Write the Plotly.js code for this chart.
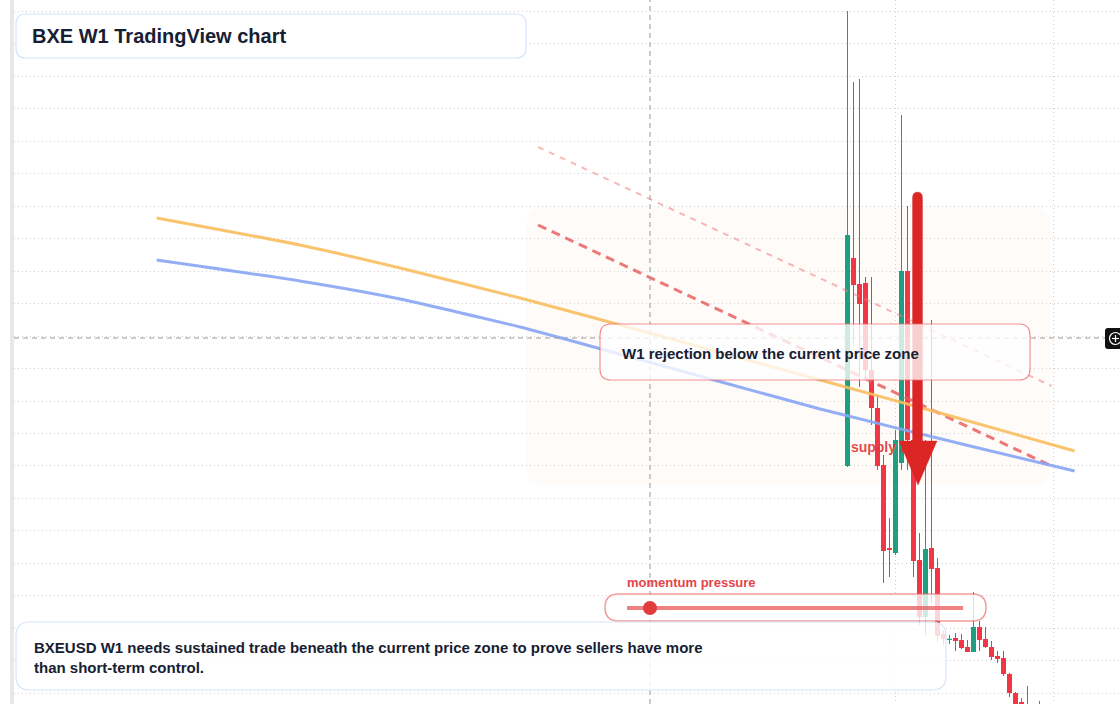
<!DOCTYPE html>
<html><head><meta charset="utf-8">
<script src="https://cdn.plot.ly/plotly-3.0.1.min.js"></script>
<style>html,body{margin:0;padding:0;background:#fff;overflow:hidden}#chart{width:1120px;height:704px}</style>
</head><body><div id="chart"></div>
<script>
// ---- data (BXEUSD weekly) ----
const firstWeek = '2024-05-06';
const opens  = [0.534,0.742,0.716,0.717,0.630,0.592,0.535,0.452,0.447,0.537,0.729,0.560,0.440,0.383,0.452,0.432,0.366,0.360,0.362,0.360,0.353,0.348,0.373,0.361,0.353,0.344,0.342,0.326,0.307,0.298,0.288,0.275,0.255];
const highs  = [0.989,0.918,0.921,0.723,0.723,0.605,0.545,0.482,0.570,0.885,0.794,0.570,0.467,0.560,0.680,0.442,0.370,0.365,0.367,0.366,0.360,0.408,0.379,0.373,0.359,0.349,0.349,0.327,0.308,0.302,0.314,0.282,0.299];
const lows   = [0.533,0.655,0.613,0.620,0.575,0.530,0.417,0.423,0.445,0.530,0.530,0.423,0.375,0.364,0.397,0.358,0.355,0.356,0.349,0.351,0.348,0.348,0.349,0.352,0.340,0.337,0.324,0.303,0.290,0.280,0.270,0.260,0.250];
const closes = [0.765,0.715,0.696,0.630,0.592,0.534,0.449,0.450,0.560,0.729,0.560,0.439,0.383,0.451,0.431,0.364,0.361,0.361,0.359,0.352,0.348,0.373,0.360,0.353,0.343,0.341,0.326,0.307,0.294,0.285,0.275,0.265,0.280];

const orangeDates = ['2022-02-20','2022-08-06','2022-12-01','2023-04-20','2023-09-18','2024-04-04','2024-08-22','2025-01-26'];
const orangeVals  = [0.782,0.755,0.732,0.702,0.667,0.620,0.587,0.549];
const blueDates   = ['2022-02-20','2022-08-06','2022-12-01','2023-04-20','2023-08-14','2024-04-04','2024-09-26','2025-01-26'];
const blueVals    = [0.740,0.719,0.701,0.673,0.646,0.591,0.554,0.529];
const zoneLineDates = ['2023-05-11','2024-12-30'];
const upperZoneVals = [0.853,0.614];
const lowerZoneVals = [0.775,0.534];
const gridDates = ['2024-07-01','2025-01-01'];
const supplyLabel = {date:'2024-05-10', value:0.552, text:'supply zone'};

// ---- build ----
const DAY = 864e5, WEEK = 7*DAY;
const t0 = Date.parse(firstWeek + 'T00:00:00Z');
const dates = opens.map((_, i) => new Date(t0 + i*WEEK).toISOString().slice(0,10));
const UP = '#1f9e80', DOWN = '#f23645';
const isUp = opens.map((o,i) => closes[i] >= o);

const bodyBase = opens.map((o,i) => Math.min(o, closes[i]));
const bodyLen = opens.map((o,i) => Math.max(Math.abs(closes[i]-o), 0.0012));

function wicks(up) {
  const x=[], y=[];
  dates.forEach((d,i) => { if (isUp[i]===up) { x.push(d,d,null); y.push(lows[i],highs[i],null); } });
  return {type:'scatter', mode:'lines', x, y, line:{color: up?UP:DOWN, width:1}, hoverinfo:'skip'};
}

const traces = [
  {type:'bar', x:dates, base:bodyBase, y:bodyLen, width:WEEK*5/6,
   marker:{color: isUp.map(u => u?UP:DOWN), line:{width:0}}, hoverinfo:'skip'},
  wicks(true), wicks(false),
  {type:'scatter', mode:'lines', x:zoneLineDates, y:upperZoneVals, line:{color:'rgba(240,125,125,0.55)', width:2, dash:'6px,6px'}, hoverinfo:'skip'},
  {type:'scatter', mode:'lines', x:zoneLineDates, y:lowerZoneVals, line:{color:'rgba(232,88,88,0.8)', width:3, dash:'9px,6px'}, hoverinfo:'skip'},
  {type:'scatter', mode:'lines', x:orangeDates, y:orangeVals, line:{color:'rgba(249,190,95,0.9)', width:3, shape:'spline', smoothing:0.5}, hoverinfo:'skip'},
  {type:'scatter', mode:'lines', x:blueDates, y:blueVals, line:{color:'rgba(135,165,243,0.9)', width:3, shape:'spline', smoothing:0.5}, hoverinfo:'skip'},
  {type:'scatter', mode:'text', x:[supplyLabel.date], y:[supplyLabel.value], text:['<b>'+supplyLabel.text+'</b>'], textposition:'middle right',
   textfont:{family:'Liberation Sans, Arial, sans-serif', size:14, color:'rgba(228,60,60,0.95)'}, hoverinfo:'skip'}
];

// ---- layout helpers (pixel -> paper) ----
const L = 14, W = 1120 - L, H = 704;
const PX = x => (x - L)/W, PY = y => 1 - y/H;
const pt = (x,y) => PX(x) + ',' + PY(y);
function rr(x0,y0,x1,y1,r){
  return 'M'+pt(x0+r,y0)+' L'+pt(x1-r,y0)+' Q'+pt(x1,y0)+' '+pt(x1,y0+r)+
         ' L'+pt(x1,y1-r)+' Q'+pt(x1,y1)+' '+pt(x1-r,y1)+
         ' L'+pt(x0+r,y1)+' Q'+pt(x0,y1)+' '+pt(x0,y1-r)+
         ' L'+pt(x0,y0+r)+' Q'+pt(x0,y0)+' '+pt(x0+r,y0)+' Z';
}
const P = {xref:'paper', yref:'paper'};
const shapes = [
  Object.assign({type:'path', path:rr(527,207,1050,485,18), fillcolor:'rgba(246,226,206,0.12)', line:{width:0}, layer:'between'}, P),
  Object.assign({type:'rect', x0:PX(10), x1:PX(14), y0:0, y1:1, fillcolor:'#e8e8e8', line:{width:0}, layer:'above'}, P),
  // crosshair
  Object.assign({type:'line', x0:PX(650), x1:PX(650), y0:0, y1:1, line:{color:'#9a9a9a', width:1, dash:'5px,4px'}, layer:'above'}, P),
  Object.assign({type:'line', x0:PX(14), x1:PX(1105), y0:PY(338), y1:PY(338), line:{color:'#9a9a9a', width:1, dash:'5px,4px'}, layer:'above'}, P),
  // arrow
  Object.assign({type:'path', path:'M'+pt(912.5,445)+' L'+pt(912.5,198)+' Q'+pt(912.5,192)+' '+pt(917.5,192)+' Q'+pt(922.5,192)+' '+pt(922.5,198)+' L'+pt(922.5,445)+' Z',
     fillcolor:'#dc2626', line:{color:'rgba(220,38,38,0.35)', width:1}, layer:'above'}, P),
  Object.assign({type:'path', path:'M'+pt(899,441)+' L'+pt(937,441)+' L'+pt(918,485)+' Z', fillcolor:'#dc2626', line:{color:'rgba(220,38,38,0.4)', width:1}, layer:'above'}, P),
  // boxes
  Object.assign({type:'path', path:rr(16,14,526,58,10), fillcolor:'#ffffff', line:{color:'#d6e4fb', width:1.2}, layer:'above'}, P),
  Object.assign({type:'path', path:rr(600,324,1030,380,11), fillcolor:'rgba(255,255,255,0.78)', line:{color:'rgba(236,110,110,0.75)', width:1.2}, layer:'above'}, P),
  Object.assign({type:'path', path:rr(605,594,986,621,13.5), fillcolor:'rgba(255,255,255,0.78)', line:{color:'rgba(236,100,100,0.65)', width:1.5}, layer:'above'}, P),
  Object.assign({type:'line', x0:PX(627), x1:PX(963), y0:PY(608), y1:PY(608), line:{color:'rgba(232,88,88,0.75)', width:4}, layer:'above'}, P),
  Object.assign({type:'circle', x0:PX(643), x1:PX(657), y0:PY(601), y1:PY(615), fillcolor:'#e23b3b', line:{width:0}, layer:'above'}, P),
  Object.assign({type:'path', path:rr(16,622,946,690,14), fillcolor:'rgba(255,255,255,0.82)', line:{color:'#d6e4fb', width:1.2}, layer:'above'}, P),
  // crosshair badge
  Object.assign({type:'path', path:rr(1105,328,1130,349,3), fillcolor:'#111111', line:{width:0}, layer:'above'}, P),
  Object.assign({type:'circle', x0:PX(1109.5), x1:PX(1121.5), y0:PY(332.5), y1:PY(344.5), line:{color:'#ffffff', width:1.2}, layer:'above'}, P),
  Object.assign({type:'line', x0:PX(1112), x1:PX(1119), y0:PY(338.5), y1:PY(338.5), line:{color:'#ffffff', width:1.2}, layer:'above'}, P),
  Object.assign({type:'line', x0:PX(1115.5), x1:PX(1115.5), y0:PY(335), y1:PY(342), line:{color:'#ffffff', width:1.2}, layer:'above'}, P)
];

const F = 'Liberation Sans, Arial, sans-serif', INK = '#162032';
const annotations = [
  {xref:'paper', yref:'paper', x:PX(30), y:PY(36), xanchor:'left', yanchor:'middle', showarrow:false, text:'<b>BXE W1 TradingView chart</b>', font:{family:F, size:20, color:INK}},
  {xref:'paper', yref:'paper', x:PX(620), y:PY(353), xanchor:'left', yanchor:'middle', showarrow:false, text:'<b>W1 rejection below the current price zone</b>', font:{family:F, size:15, color:INK}},
  {xref:'paper', yref:'paper', x:PX(32), y:PY(657), xanchor:'left', yanchor:'middle', align:'left', showarrow:false,
   text:'<b>BXEUSD W1 needs sustained trade beneath the current price zone to prove sellers have more<br>than short-term control.</b>', font:{family:F, size:15, color:INK}},
  {xref:'paper', yref:'paper', x:PX(625), y:PY(582), xanchor:'left', yanchor:'middle', showarrow:false, text:'<b>momentum pressure</b>', font:{family:F, size:13, color:'#e2444a'}}
];

const layout = {
  width:1120, height:704, margin:{l:L, r:0, t:0, b:0}, paper_bgcolor:'#ffffff', plot_bgcolor:'#ffffff',
  showlegend:false, barmode:'overlay', hovermode:false,
  xaxis:{type:'date', range:[t0 + ((L-847.5)/6)*WEEK, t0 + ((1120-847.5)/6)*WEEK], tickmode:'array', tickvals:gridDates,
         showticklabels:false, ticks:'', showgrid:true, gridcolor:'#cfcfcf', griddash:'1px,3px', gridwidth:1, zeroline:false, showline:false},
  yaxis:{range:[0.296, 1.0], tick0:0.9886, dtick:0.03247, showticklabels:false, ticks:'', showgrid:true, gridcolor:'#cfcfcf', griddash:'1px,3px', gridwidth:1, zeroline:false, showline:false},
  shapes, annotations
};
Plotly.newPlot('chart', traces, layout, {staticPlot:true, displayModeBar:false});
</script></body></html>
